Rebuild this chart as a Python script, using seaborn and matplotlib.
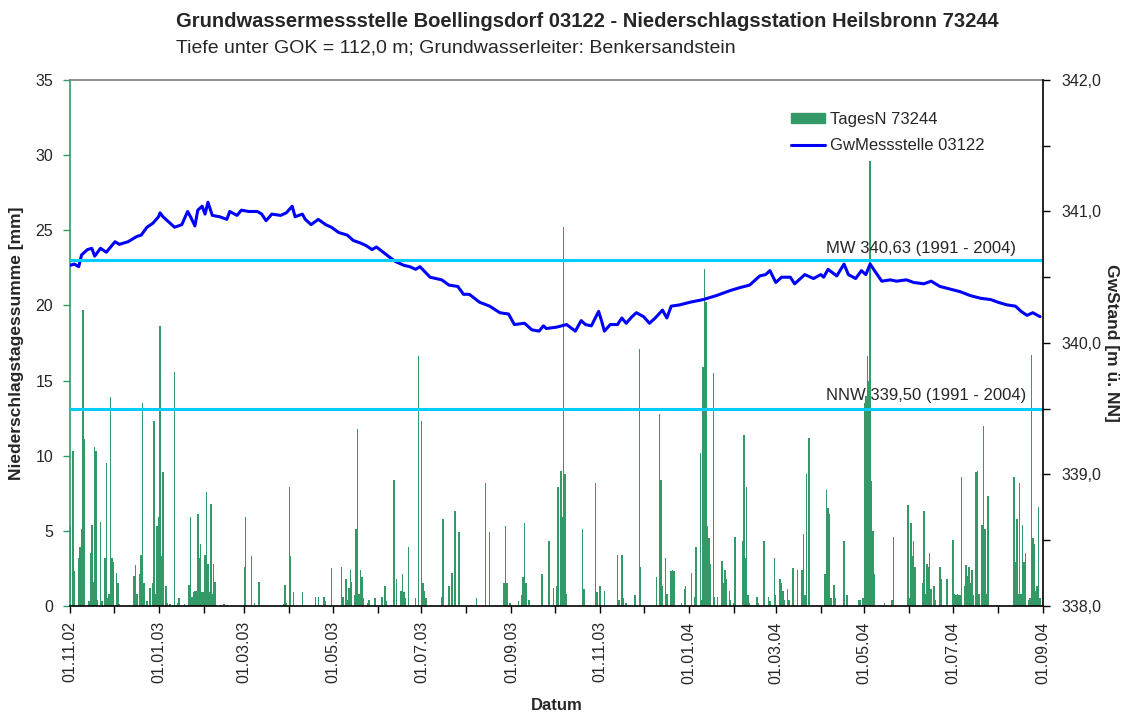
import numpy as np
import pandas as pd
import matplotlib
matplotlib.use("Agg")
import matplotlib.pyplot as plt
import matplotlib.dates as mdates
from matplotlib.patches import Patch
from matplotlib.lines import Line2D
from matplotlib.ticker import MultipleLocator, FuncFormatter
import seaborn as sns

# Tagesniederschlag Heilsbronn: Tag seit 01.11.02 und Menge in mm
regen_tag = [0, 2, 3, 6, 7, 8, 9, 10, 13, 14, 15, 16, 17, 18, 19, 21, 22, 24, 25, 26, 27, 28, 29, 30,
             32, 33, 34, 44, 45, 46, 48, 49, 50, 51, 53, 55, 57, 58, 59, 60, 61, 62, 63, 64, 66, 67,
             69, 72, 74, 75, 79, 82, 83, 84, 85, 86, 87, 88, 89, 90, 91, 92, 93, 94, 95, 96, 97, 98,
             99, 100, 106, 120, 121, 125, 127, 130, 147, 148, 149, 151, 152, 154, 160,
             169, 171, 175, 176, 180, 187, 188, 190, 191, 192, 193, 194, 196, 197, 198, 199, 200,
             201, 202, 205, 206, 210, 215, 217, 218, 223, 225, 228, 229, 230, 231, 233, 238, 240,
             242, 243, 244, 245, 256, 257, 261, 263, 265, 268, 280, 286, 289, 299, 300, 301, 303,
             309, 311, 312, 313, 314, 316, 325, 330, 333,
             335, 336, 338, 339, 340, 341, 342, 353, 354, 362, 363, 365, 368, 377, 378, 380, 381,
             383, 389, 392, 393, 404, 406, 407, 408, 410, 411, 414, 415, 416, 421, 423, 424, 428,
             430, 431, 434, 435, 436, 437, 438, 439, 440, 441, 443, 444, 446, 449, 450, 451, 452,
             454, 455, 457, 458, 463, 464, 465, 466, 467, 468, 473, 474, 478, 481, 482, 485, 486,
             489, 490, 491, 492, 494, 495, 498, 501,
             504, 505, 506, 507, 509, 520, 521, 522, 523, 524, 526, 527, 533, 535, 543, 544, 546,
             547, 548, 549, 550, 551, 552, 553, 554, 561, 566, 567, 577, 578, 579, 580, 581, 582,
             587, 588, 589, 590, 591, 592, 593, 595, 596, 599, 600, 604, 608, 609, 610, 611, 612,
             613, 614, 616, 617, 618, 619, 620, 621, 622, 624, 625, 626, 628, 629, 630, 631, 632,
             650, 651, 652, 653, 654, 655, 656, 657, 658, 660, 661, 662, 663, 664, 665, 666, 667, 668]
regen_mm = [5.4, 10.3, 2.3, 3.2, 3.9, 5.1, 19.7, 11.1, 0.3, 3.5, 5.4, 1.6, 10.6, 10.3, 0.4, 5.6, 0.3, 3.2, 9.5, 0.5, 0.8, 13.9, 3.2, 2.9,
            2.2, 1.5, 0.1, 2.0, 2.7, 0.8, 2.1, 3.4, 13.5, 1.5, 0.3, 1.2, 1.5, 12.3, 0.8, 5.3, 5.9, 18.6, 3.3, 8.9, 1.3, 0.2,
            0.1, 15.6, 0.2, 0.5, 0.1, 1.4, 5.9, 0.6, 0.9, 1.0, 1.0, 6.1, 3.2, 4.1, 0.9, 0.9, 3.4, 7.6, 2.8, 0.9, 6.8, 0.8,
            2.8, 1.6, 0.1, 2.6, 5.9, 3.3, 0.2, 1.6, 0.1, 1.4, 0.2, 7.9, 3.3, 0.9, 0.9,
            0.6, 0.6, 0.6, 0.3, 2.5, 2.6, 0.6, 1.8, 0.4, 1.2, 2.4, 1.6, 0.7, 5.1, 11.8, 0.8, 2.4,
            1.9, 0.5, 0.2, 0.4, 0.5, 0.6, 1.3, 0.3, 8.4, 1.8, 1.0, 2.1, 0.9, 0.5, 3.9, 0.5, 16.6,
            12.3, 1.5, 1.0, 0.5, 0.6, 5.8, 1.3, 2.2, 6.3, 4.9, 0.5, 8.2, 4.9, 1.5, 5.3, 1.5, 0.2,
            0.3, 0.7, 1.9, 5.5, 1.5, 0.4, 2.1, 4.3, 1.2,
            1.3, 7.9, 9.0, 5.9, 25.2, 8.8, 0.8, 5.1, 1.1, 8.2, 0.9, 1.3, 1.0, 3.4, 0.4, 3.4, 0.5,
            0.2, 0.7, 17.1, 2.6, 1.9, 12.8, 8.4, 1.3, 3.2, 0.8, 2.3, 2.4, 2.3, 0.2, 1.1, 1.3, 2.2,
            0.6, 3.9, 10.2, 0.4, 15.9, 22.4, 20.2, 5.3, 4.5, 2.8, 15.5, 0.6, 0.6, 3.0, 1.5, 2.4, 1.8,
            1.0, 0.4, 0.2, 4.6, 4.3, 11.4, 3.2, 7.9, 0.7, 0.2, 0.6, 0.2, 4.3, 0.6, 0.3, 3.2, 0.7,
            1.8, 1.5, 1.0, 0.4, 1.1, 0.4, 2.5, 2.4,
            2.4, 4.8, 0.7, 8.8, 11.2, 2.1, 7.7, 6.5, 6.1, 0.5, 1.4, 0.5, 4.3, 0.7, 0.4, 0.4, 0.5,
            13.5, 14.0, 16.6, 15.0, 29.6, 8.3, 5.0, 2.1, 0.2, 0.4, 4.6, 6.7, 0.5, 5.5, 3.3, 4.3, 2.6,
            1.5, 6.3, 0.8, 2.8, 2.6, 3.5, 1.1, 1.3, 0.4, 2.6, 1.8, 1.8, 4.4, 0.8, 0.7, 0.8, 0.7,
            0.7, 8.6, 1.3, 2.7, 2.0, 2.6, 1.5, 2.4, 0.7, 8.9, 9.0, 0.8, 5.4, 12.0, 5.1, 0.8, 7.3,
            8.6, 2.9, 5.8, 0.8, 8.2, 0.8, 5.4, 2.9, 3.5, 0.4, 0.5, 16.7, 4.5, 4.1, 1.0, 1.3, 6.6, 0.5]

# Grundwasserstand Boellingsdorf: Tag seit 01.11.02 und Stand in m ue. NN
gw_tag = [0, 3, 6, 8, 12, 15, 17, 21, 25, 31, 34, 40, 46, 49, 53, 57, 61, 62, 64, 69, 72, 77, 81, 83,
          86, 88, 91, 93, 95, 98, 103, 108, 110, 115, 118, 123, 129, 132, 135, 139, 145, 149, 153,
          155, 160, 162, 166, 171, 176, 180, 185, 191, 195, 200, 204, 208, 211, 218, 224, 230, 234,
          238, 241, 248, 256, 261, 267, 271, 275, 282, 289, 296, 302, 306, 313, 318, 323, 326, 328,
          335, 342, 348, 352, 355, 359, 364, 366, 368, 372, 377, 380, 383, 387, 390, 395, 399, 403,
          408, 411, 414, 420, 427, 436, 445, 455, 461, 468, 475, 479, 482, 486, 490, 496, 499, 506,
          512, 517, 519, 522, 528, 533, 536, 541, 545, 548, 551, 554, 559, 565, 569, 576, 581, 588,
          593, 599, 606, 613, 620, 627, 634, 639, 645, 651, 655, 659, 663, 668]
gw_stand = [340.59, 340.60, 340.58, 340.67, 340.71, 340.72, 340.66, 340.72, 340.69, 340.77, 340.75,
            340.77, 340.81, 340.82, 340.88, 340.91, 340.96, 340.99, 340.96, 340.91, 340.88, 340.90,
            341.00, 340.96, 340.89, 341.01, 341.04, 340.98, 341.07, 340.97, 340.96, 340.94, 341.00,
            340.97, 341.01, 341.00, 341.00, 340.98, 340.93, 340.98, 340.97, 340.99, 341.04, 340.96,
            340.98, 340.94, 340.90, 340.94, 340.90, 340.88, 340.84, 340.82, 340.78, 340.76, 340.74,
            340.71, 340.73, 340.67, 340.62, 340.59, 340.58, 340.56, 340.58, 340.50, 340.48, 340.44,
            340.43, 340.37, 340.37, 340.31, 340.28, 340.23, 340.22, 340.14, 340.15, 340.10, 340.09,
            340.13, 340.11, 340.12, 340.14, 340.09, 340.17, 340.14, 340.13, 340.24, 340.17, 340.09,
            340.14, 340.14, 340.19, 340.15, 340.20, 340.23, 340.20, 340.15, 340.19, 340.25, 340.19,
            340.28, 340.29, 340.31, 340.33, 340.36, 340.40, 340.42, 340.44, 340.51, 340.52, 340.55,
            340.46, 340.50, 340.50, 340.45, 340.52, 340.49, 340.52, 340.50, 340.56, 340.51, 340.60,
            340.52, 340.49, 340.55, 340.52, 340.60, 340.55, 340.47, 340.48, 340.47, 340.48, 340.46,
            340.45, 340.47, 340.43, 340.41, 340.39, 340.36, 340.34, 340.33, 340.31, 340.29, 340.28,
            340.24, 340.21, 340.23, 340.20]

mw = 340.63
nnw = 339.50

start = pd.Timestamp("2002-11-01")
ende = pd.Timestamp("2004-09-01")
regen = pd.DataFrame({"Datum": start + pd.to_timedelta(regen_tag, unit="D"), "mm": regen_mm})
gw = pd.DataFrame({"Datum": start + pd.to_timedelta(gw_tag, unit="D"), "Stand": gw_stand})

sns.set_style("white")
plt.rcParams["font.family"] = ["Liberation Sans", "DejaVu Sans"]

gruen = "#339966"
cyan = "#00CCFF"

fig, ax = plt.subplots(figsize=(11.29, 7.14), dpi=100)
fig.subplots_adjust(left=0.062, right=0.9238, bottom=0.1513, top=0.888)
ax2 = ax.twinx()

# Balken Niederschlag
ax.bar(regen["Datum"], regen["mm"], width=1.0, color=gruen, linewidth=0)
ax.set_ylim(0, 35)
ax.set_xlim(start, ende)
ax.yaxis.set_major_locator(MultipleLocator(5))

# Grundwasserstand
sns.lineplot(data=gw, x="Datum", y="Stand", ax=ax2, color="#0000FF", linewidth=2.2)
ax2.axhline(mw, color=cyan, linewidth=2.2)
ax2.axhline(nnw, color=cyan, linewidth=2.2)
ax2.set_ylim(338, 342)
ax2.set_xlim(start, ende)
ax2.yaxis.set_major_locator(MultipleLocator(1))
ax2.yaxis.set_minor_locator(MultipleLocator(0.5))
ax2.yaxis.set_major_formatter(FuncFormatter(lambda v, p: f"{v:.1f}".replace(".", ",")))

ax2.annotate("MW 340,63 (1991 - 2004)", xy=(0.777, mw), xycoords=ax2.get_yaxis_transform(),
             xytext=(0, 3), textcoords="offset points", va="bottom", ha="left", fontsize=12)
ax2.annotate("NNW 339,50 (1991 - 2004)", xy=(0.777, nnw), xycoords=ax2.get_yaxis_transform(),
             xytext=(0, 4), textcoords="offset points", va="bottom", ha="left", fontsize=12)

# x-Achse
ax.xaxis.set_major_locator(mdates.MonthLocator(bymonth=[1, 3, 5, 7, 9, 11]))
ax.xaxis.set_minor_locator(mdates.MonthLocator())
ax.xaxis.set_major_formatter(mdates.DateFormatter("%d.%m.%y"))
for lbl in ax.get_xticklabels():
    lbl.set_rotation(90)

ax.tick_params(axis="x", which="both", direction="out", length=5, width=1, color="black",
               labelsize=11.5, bottom=True, pad=6)
ax.tick_params(axis="y", direction="out", length=5, width=1, color=gruen, labelsize=11.5,
               left=True, pad=7)
ax2.tick_params(axis="y", which="both", direction="out", length=5, width=1, color="black",
                labelsize=11.5, right=True, pad=8)

ax.set_xlabel("Datum", fontsize=12, fontweight="bold", labelpad=10)
ax.set_ylabel("Niederschlagstagessumme [mm]", fontsize=12.5, fontweight="bold", labelpad=8)
ax2.set_ylabel("GwStand [m ü. NN]", fontsize=12.5, fontweight="bold", rotation=270, labelpad=13)

for s in ["left", "top", "bottom"]:
    ax2.spines[s].set_visible(False)
ax.spines["right"].set_visible(False)
ax.spines["left"].set_color(gruen)
ax.spines["top"].set_color("#808080")
ax.spines["bottom"].set_color("black")
ax2.spines["right"].set_color("black")
for s in ["left", "top", "bottom"]:
    ax.spines[s].set_visible(True)
    ax.spines[s].set_linewidth(1.2)
ax2.spines["right"].set_linewidth(1.2)

handles = [Patch(facecolor=gruen, edgecolor=gruen),
           Line2D([0], [0], color="#0000FF", linewidth=2.2)]
ax2.legend(handles, ["TagesN 73244", "GwMessstelle 03122"], loc="upper left",
           bbox_to_anchor=(0.726, 0.968), frameon=False, fontsize=12, handlelength=2.0,
           handleheight=0.6, handletextpad=0.3, labelspacing=0.7)

fig.text(0.156, 0.962, "Grundwassermessstelle Boellingsdorf 03122 - Niederschlagsstation Heilsbronn 73244",
         fontsize=14.5, fontweight="bold", ha="left", va="baseline")
fig.text(0.156, 0.945, "Tiefe unter GOK = 112,0 m; Grundwasserleiter: Benkersandstein",
         fontsize=14, ha="left", va="top")

fig.savefig("out.png", dpi=100, facecolor="white")
